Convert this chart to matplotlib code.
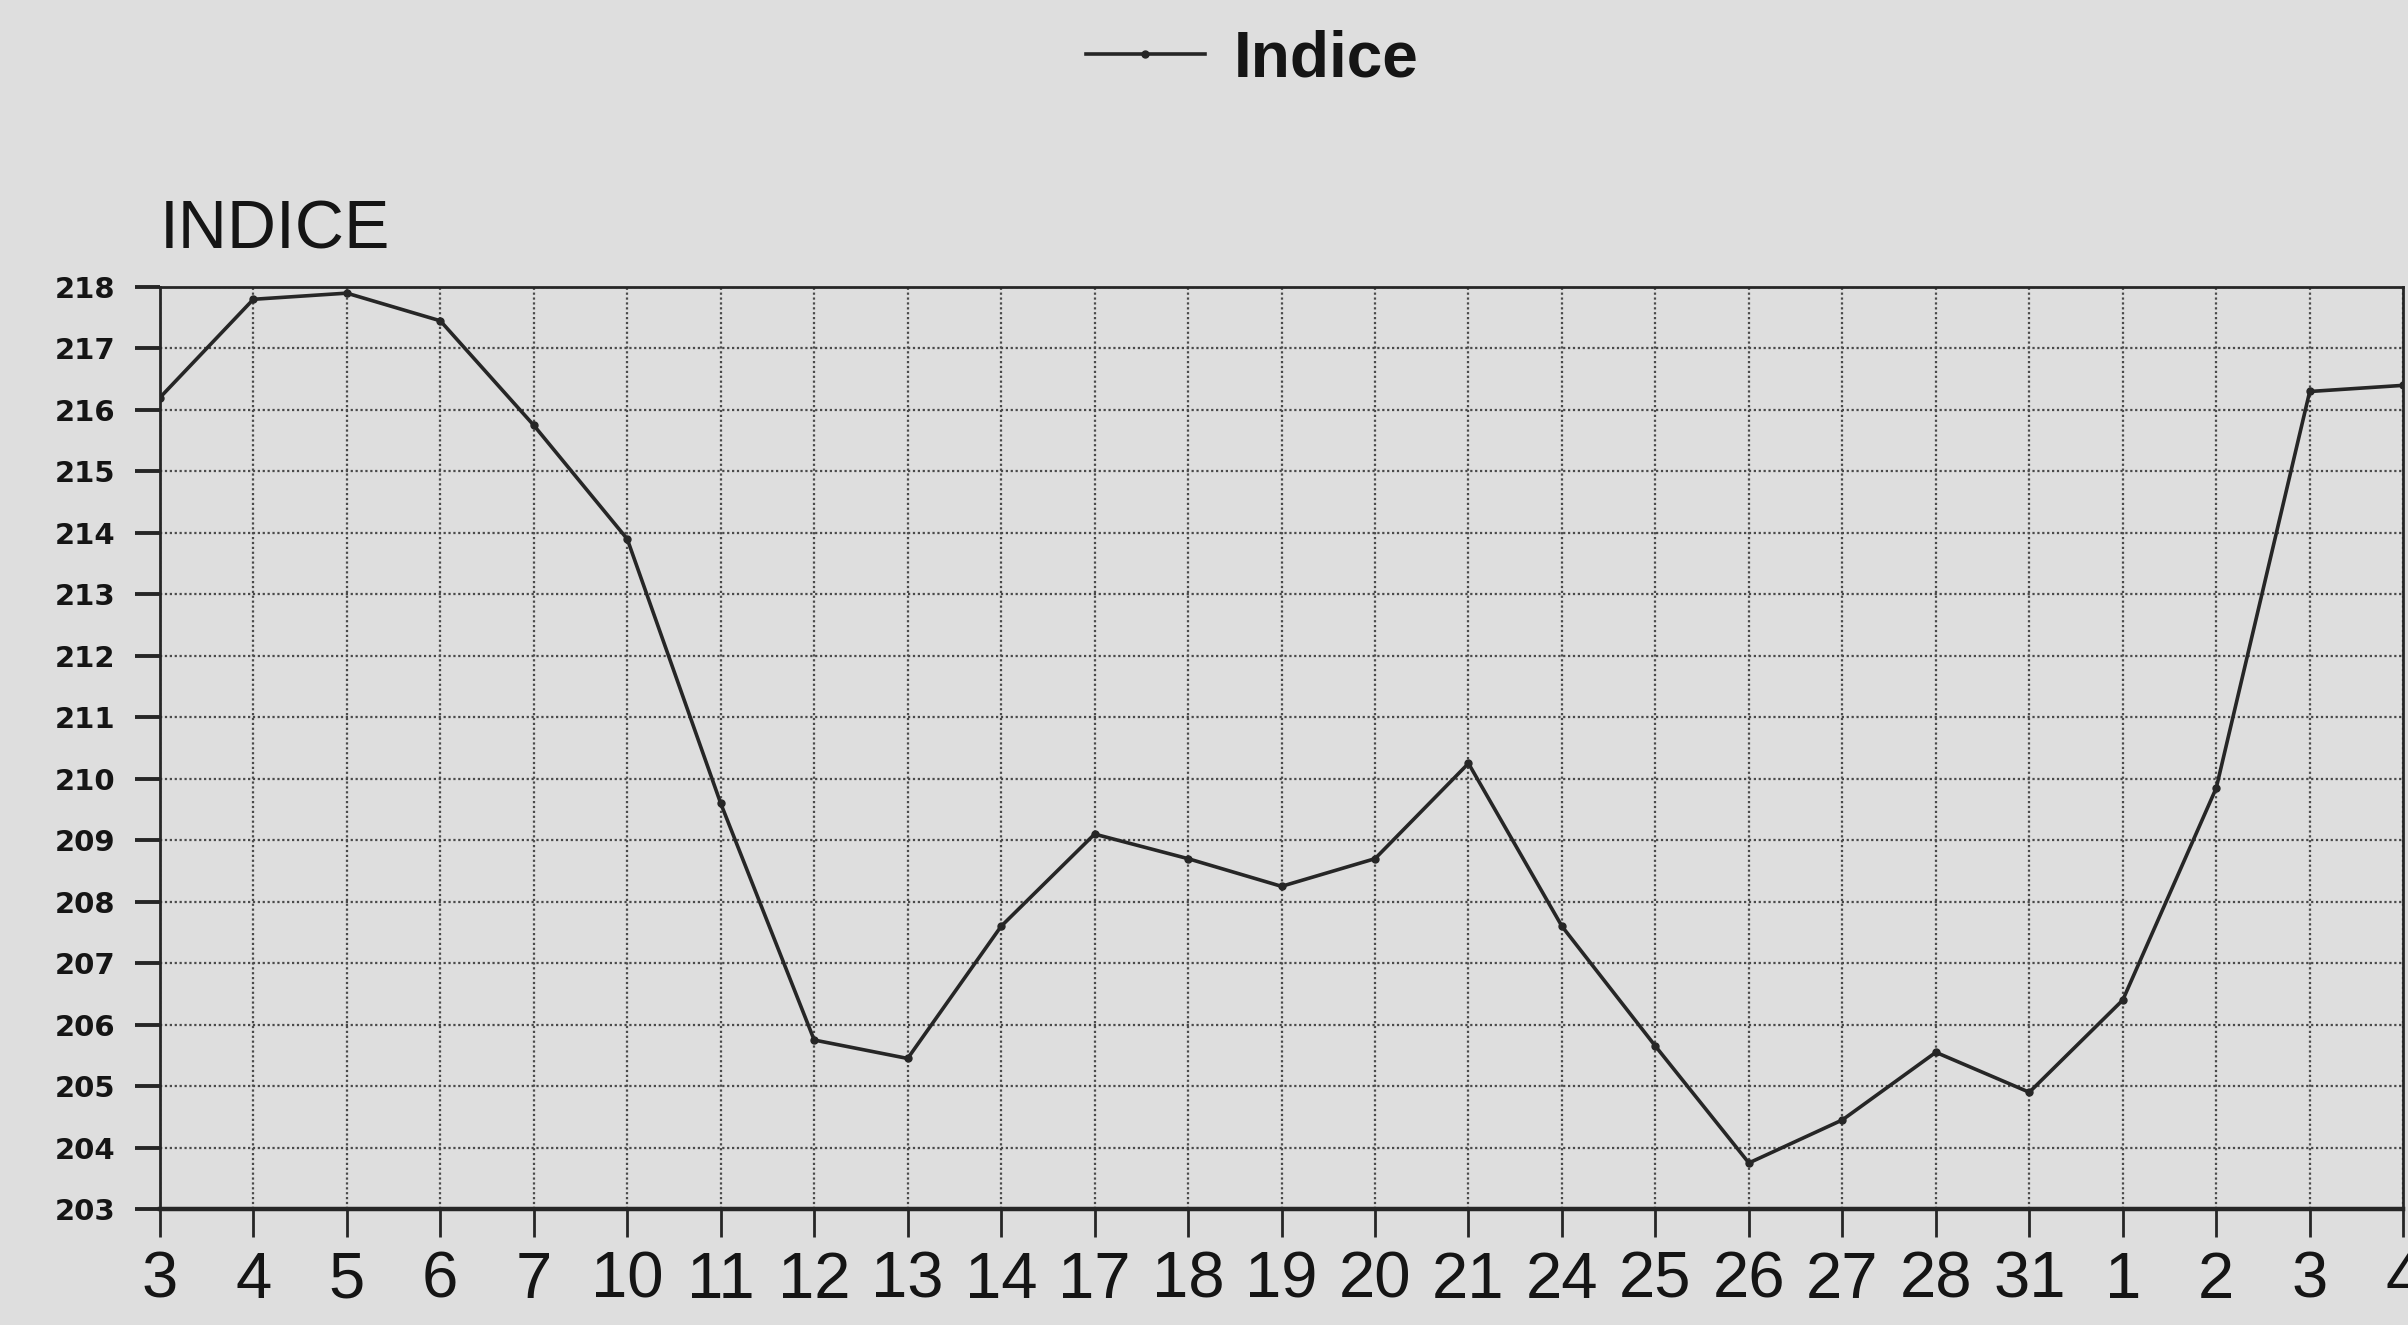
import numpy as np
import matplotlib
matplotlib.use("Agg")
import matplotlib.pyplot as plt

# data
days = ["3", "4", "5", "6", "7", "10", "11", "12", "13", "14", "17", "18", "19",
        "20", "21", "24", "25", "26", "27", "28", "31", "1", "2", "3", "4"]
indice = [216.2, 217.8, 217.9, 217.45, 215.75, 213.9, 209.6, 205.75, 205.45,
          207.6, 209.1, 208.7, 208.25, 208.7, 210.25, 207.6, 205.65, 203.75,
          204.45, 205.55, 204.9, 206.4, 209.85, 216.3, 216.4]
y_ticks = list(range(203, 219))

paper = "#dedede"
ink = "#262626"

fig = plt.figure(figsize=(24.08, 13.25), dpi=100, facecolor=paper)
ax = fig.add_axes([0.0664, 0.0875, 0.998 - 0.0664, 0.7834 - 0.0875])
ax.set_facecolor(paper)

x = np.arange(len(days))
ax.plot(x, indice, color=ink, lw=2.6, marker="o", ms=5, label="Indice")

ax.set_xlim(0, len(days) - 1)
ax.set_ylim(203, 218)
ax.set_xticks(x)
ax.set_xticklabels(days)
ax.set_yticks(y_ticks)
ax.set_yticklabels([str(v) for v in y_ticks])

ax.grid(True, color="#4a4a4a", lw=1.6, ls=(0, (1, 1.2)))
ax.set_axisbelow(True)

for side in ["top", "left", "right"]:
    ax.spines[side].set_color(ink)
    ax.spines[side].set_linewidth(2.0)
ax.spines["bottom"].set_color(ink)
ax.spines["bottom"].set_linewidth(3.2)

ax.tick_params(axis="x", direction="out", length=20, width=2.0, color=ink,
               pad=10, labelsize=47, labelcolor="#151515")
ax.tick_params(axis="y", direction="out", length=18, width=2.8, color=ink,
               pad=14, labelsize=21, labelcolor="#151515")
for lab in ax.get_xticklabels():
    lab.set_family(["Liberation Sans", "DejaVu Sans"])
for lab in ax.get_yticklabels():
    lab.set_family(["DejaVu Sans"])
    lab.set_fontweight("bold")

fig.text(0.0664, 0.826, "INDICE", fontsize=49, color="#151515",
         family=["Liberation Sans", "DejaVu Sans"], ha="left", va="center")

leg = fig.legend(loc="center", bbox_to_anchor=(0.52, 0.955), frameon=False,
                 handlelength=1.85, handletextpad=0.45,
                 prop={"family": ["Liberation Sans", "DejaVu Sans"],
                       "size": 46, "weight": "bold"})
for t in leg.get_texts():
    t.set_color("#151515")

fig.savefig("out.png", dpi=100, facecolor=paper)
